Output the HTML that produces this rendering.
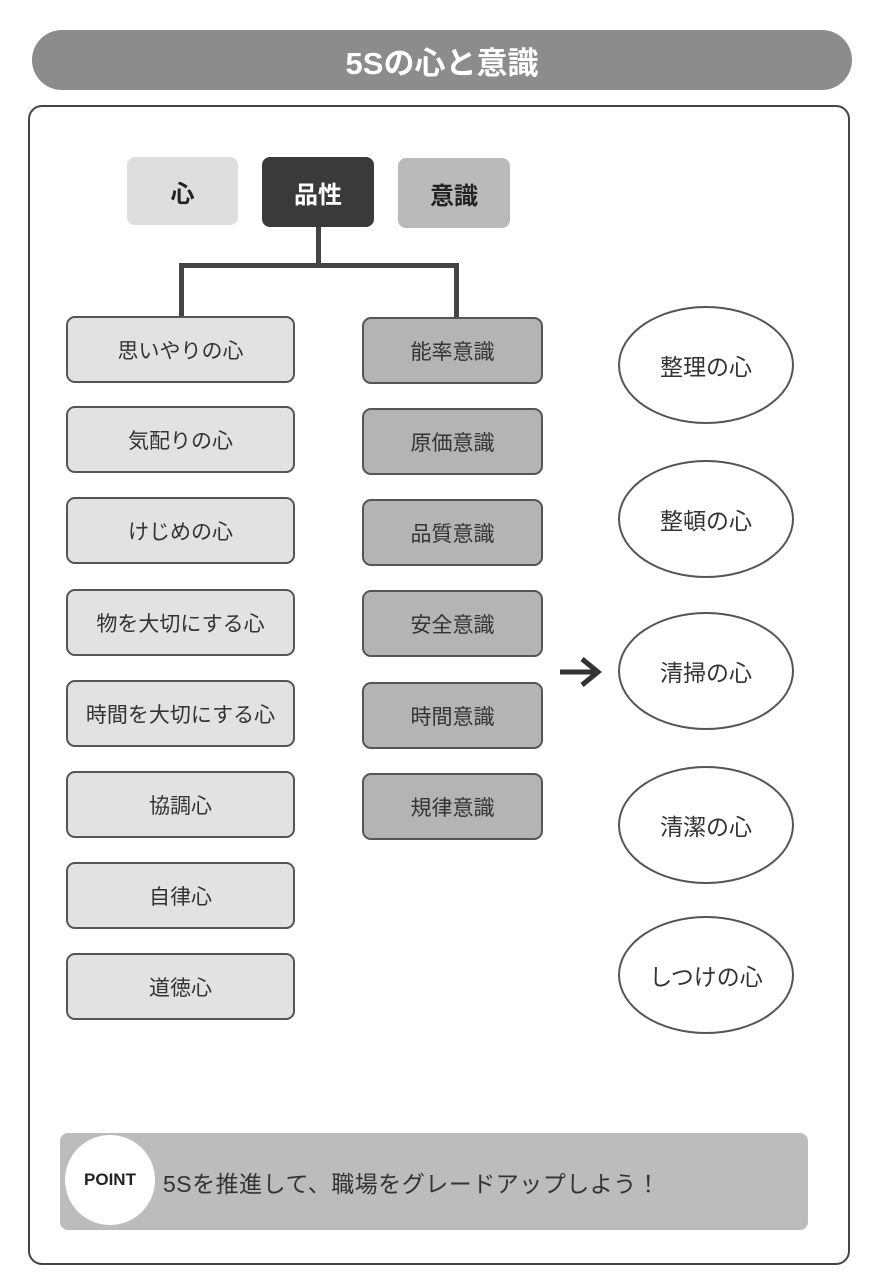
<!DOCTYPE html>
<html><head><meta charset="utf-8"><style>
body{margin:0;width:890px;height:1278px;background:#fff;position:relative;font-family:"Liberation Sans","Noto Sans CJK JP",sans-serif;overflow:hidden}
div{position:absolute;box-sizing:border-box}
.t{display:flex;align-items:center;justify-content:center}
.l{left:66px;width:229px;height:67px;background:#e2e2e2;border:2px solid #555;border-radius:9px;font-size:21px;color:#333}
.m{left:362px;width:181px;height:67px;background:#b4b4b4;border:2px solid #555;border-radius:9px;font-size:21px;color:#333}
.e{left:618px;width:176px;height:118px;border:2px solid #555;border-radius:50%;background:#fff;font-size:23px;color:#333}
.ln{background:#444}
</style></head><body>
<div class="t" style="left:32px;top:30px;width:820px;height:60px;background:#8c8c8c;border-radius:30px;color:#fff;font-size:31px;font-weight:bold">5Sの心と意識</div>
<div style="left:28px;top:105px;width:822px;height:1160px;border:2px solid #444;border-radius:14px"></div>
<div class="t" style="left:127px;top:157px;width:111px;height:68px;background:#dedede;border-radius:8px;font-size:24px;font-weight:bold;color:#222">心</div>
<div class="t" style="left:262px;top:157px;width:112px;height:70px;background:#3a3a3a;border-radius:8px;font-size:24px;font-weight:bold;color:#fff">品性</div>
<div class="t" style="left:398px;top:158px;width:112px;height:70px;background:#bababa;border-radius:8px;font-size:24px;font-weight:bold;color:#222">意識</div>
<div class="ln" style="left:316px;top:227px;width:5px;height:40px"></div>
<div class="ln" style="left:179px;top:263px;width:280px;height:5px"></div>
<div class="ln" style="left:179px;top:263px;width:5px;height:54px"></div>
<div class="ln" style="left:454px;top:263px;width:5px;height:55px"></div>
<div class="t l" style="top:316px">思いやりの心</div>
<div class="t l" style="top:406px">気配りの心</div>
<div class="t l" style="top:497px">けじめの心</div>
<div class="t l" style="top:589px">物を大切にする心</div>
<div class="t l" style="top:680px">時間を大切にする心</div>
<div class="t l" style="top:771px">協調心</div>
<div class="t l" style="top:862px">自律心</div>
<div class="t l" style="top:953px">道徳心</div>
<div class="t m" style="top:317px">能率意識</div>
<div class="t m" style="top:408px">原価意識</div>
<div class="t m" style="top:499px">品質意識</div>
<div class="t m" style="top:590px">安全意識</div>
<div class="t m" style="top:682px">時間意識</div>
<div class="t m" style="top:773px">規律意識</div>
<div class="t e" style="top:306px">整理の心</div>
<div class="t e" style="top:460px">整頓の心</div>
<div class="t e" style="top:612px">清掃の心</div>
<div class="t e" style="top:766px">清潔の心</div>
<div class="t e" style="top:916px">しつけの心</div>
<svg style="position:absolute;left:558px;top:654px" width="46" height="36"><path d="M2 18H38M24 5L40 18L24 31" stroke="#333" stroke-width="5" fill="none"/></svg>
<div style="left:60px;top:1133px;width:748px;height:97px;background:#bcbcbc;border-radius:8px"></div>
<div class="t" style="left:65px;top:1135px;width:90px;height:90px;background:#fff;border-radius:50%;font-size:17px;font-weight:bold;color:#222">POINT</div>
<div style="left:163px;top:1165px;font-size:23px;color:#333;white-space:nowrap;letter-spacing:0.5px">5Sを推進して、職場をグレードアップしよう！</div>
</body></html>
